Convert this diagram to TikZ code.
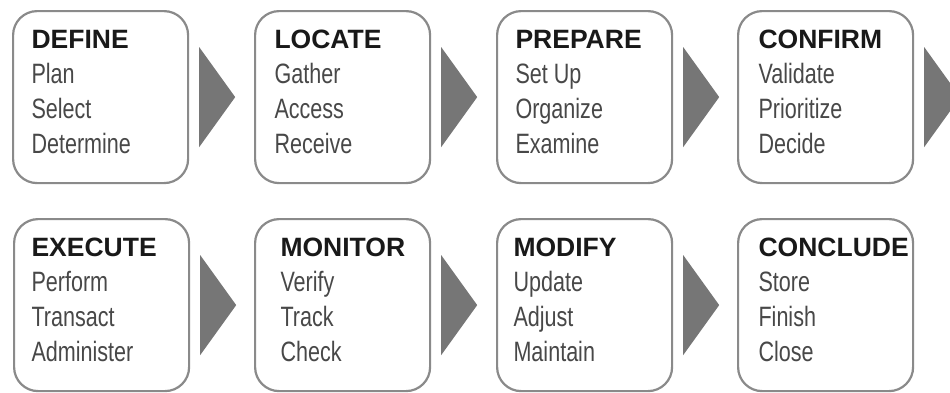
\documentclass[tikz,border=0pt]{standalone}
\usepackage{fontspec}
\setmainfont{Liberation Sans}
\newfontfamily\narrowfont[FakeStretch=0.77]{Liberation Sans}
\usetikzlibrary{calc}
\definecolor{framegray}{RGB}{138,138,138}
\definecolor{arrowgray}{RGB}{118,118,118}
\definecolor{itemgray}{RGB}{72,72,72}
\tikzset{
  stepbox/.style={draw=framegray,line width=2.2pt,rounded corners=24pt,fill=white,
    minimum width=175pt,minimum height=172pt,anchor=north west,inner sep=0pt},
  steptitle/.style={anchor=base west,font=\bfseries\fontsize{26.5}{26.5}\selectfont,text=black!90},
  stepitem/.style={anchor=base west,font=\narrowfont\fontsize{28}{28}\selectfont,text=itemgray},
}
% #1 name, #2/#3 top left corner, #4 text indent, #5 title, #6-#8 items
\newcommand\stepcard[8]{%
  \node[stepbox] (#1) at (#2,#3) {};
  \node[steptitle] (#1-t) at ($(#1.north west)+(#4,38)$) {#5};
  \node[stepitem] (#1-a) at ($(#1.north west)+(#4,73)$) {#6};
  \node[stepitem] (#1-b) at ($(#1.north west)+(#4,108)$) {#7};
  \node[stepitem] (#1-c) at ($(#1.north west)+(#4,143)$) {#8};
}
\begin{document}
\begin{tikzpicture}[x=1pt,y=-1pt]
  \useasboundingbox (0,0) rectangle (950,392);
  \clip (0,0) rectangle (950,392);
  % first row
  \stepcard{define}{12}{10}{16}{DEFINE}{Plan}{Select}{Determine}
  \stepcard{locate}{254}{10}{17}{LOCATE}{Gather}{Access}{Receive}
  \stepcard{prepare}{496}{10}{16}{PREPARE}{Set Up}{Organize}{Examine}
  \stepcard{confirm}{737}{10}{18}{CONFIRM}{Validate}{Prioritize}{Decide}
  % second row
  \stepcard{execute}{13}{218}{15}{EXECUTE}{Perform}{Transact}{Administer}
  \stepcard{monitor}{254}{218}{23}{MONITOR}{Verify}{Track}{Check}
  \stepcard{modify}{496}{218}{14}{MODIFY}{Update}{Adjust}{Maintain}
  \stepcard{conclude}{737}{218}{18}{CONCLUDE}{Store}{Finish}{Close}
  % arrow heads between the cards
  \foreach \a in {define,locate,prepare,confirm,execute,monitor,modify}
    \fill[arrowgray] ($(\a.east)+(10,-50)$) -- ($(\a.east)+(46,0)$)
      -- ($(\a.east)+(10,50)$) -- cycle;
\end{tikzpicture}
\end{document}
